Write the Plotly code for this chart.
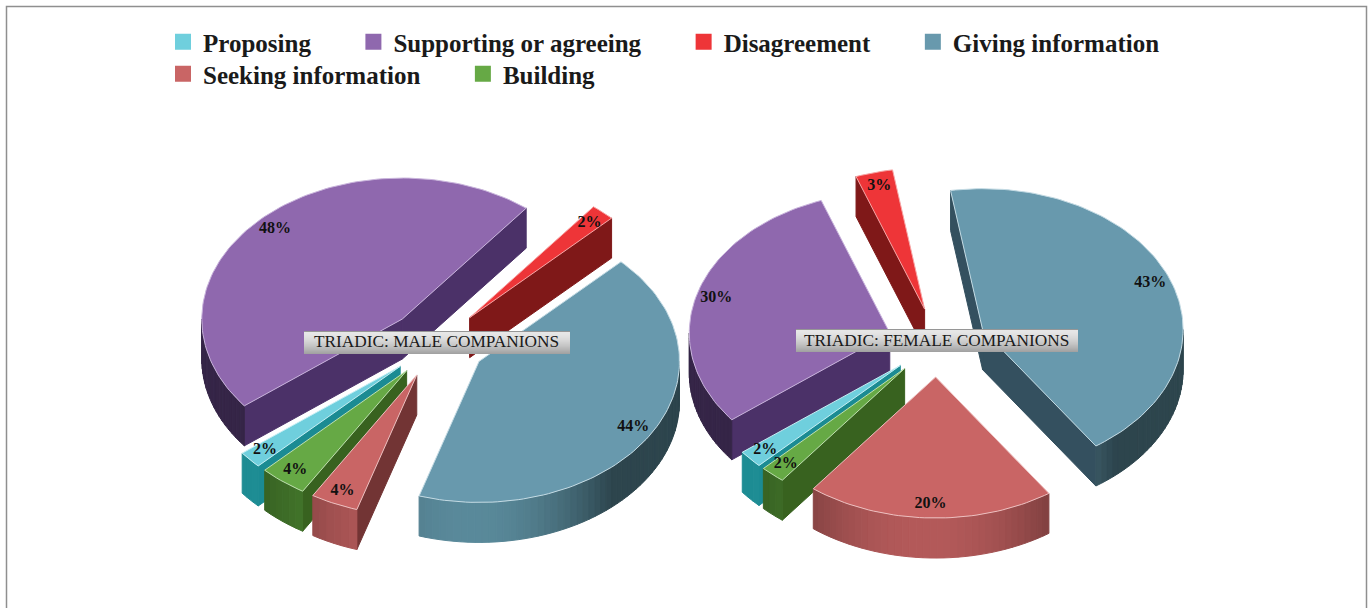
import math
import plotly.graph_objects as go

# ---- data (percentages printed on the chart) ----
categories = ["Proposing", "Supporting or agreeing", "Disagreement",
              "Giving information", "Seeking information", "Building"]
male_values = [2, 48, 2, 44, 4, 4]
female_values = [2, 30, 3, 43, 20, 2]
panel_titles = ["TRIADIC: MALE COMPANIONS", "TRIADIC: FEMALE COMPANIONS"]

top_colors = ["#6fcfdd", "#8f68ae", "#ee3538", "#6899ad", "#c96565", "#66a945"]
edge_colors = ["#1b8b93", "#4b3168", "#7f1818", "#34505f", "#723434", "#38621f"]
wall_colors = ["#23a5ad", "#6b4a8f", "#a81f1f", "#5a8a9b", "#b45a5a", "#4b8430"]
wall_floors = [0.85, 0.5, 0.5, 0.5, 0.62, 0.72]
border_colors = ["#c6eef3", "#c9b4dc", "#f7a5a5", "#c4dbe4", "#eec0c0", "#bfe0ae"]

# ---- pie geometry ----
RX, RY, DEPTH, EXPLODE = 200.5, 141, 40, 0.245
START_ANGLE = 218       # the counter-clockwise end of "Supporting or agreeing"
CLOCKWISE_ORDER = [1, 2, 3, 4, 5, 0]
DRAW_ORDER = [2, 1, 3, 0, 5, 4]
CENTERS = [(437, 343.5), (937, 342.5)]


def shade(hex_color, f):
    r, g, b = (int(hex_color[i:i + 2], 16) for i in (1, 3, 5))
    return f"rgb({int(r * f)},{int(g * f)},{int(b * f)})"


def arc(cx, cy, a, b, dy=0):
    n = max(2, int(abs(b - a) / 1.5) + 1)
    pts = [a + (b - a) * i / (n - 1) for i in range(n)]
    return ([cx + RX * math.cos(math.radians(t)) for t in pts],
            [cy + dy - RY * math.sin(math.radians(t)) for t in pts])


def poly(fig, xs, ys, color, line=None, width=1, name=None):
    fig.add_trace(go.Scatter(
        x=xs + xs[:1], y=ys + ys[:1], mode="lines", fill="toself",
        fillcolor=color, line=dict(color=line or color, width=width),
        hoverinfo="text" if name else "skip", text=name, showlegend=False))


def wall_light(t, floor):
    return floor + (1 - floor) * max(0.0, math.cos(math.radians(2 * (t + 93))))


def draw_pie(fig, center, values):
    total = sum(values)
    spans = {}
    angle = START_ANGLE
    for idx in CLOCKWISE_ORDER:
        sweep = 360 * values[idx] / total
        spans[idx] = (angle - sweep, angle)
        angle -= sweep
    label_x, label_y, label_t = [], [], []
    for idx in DRAW_ORDER:
        lo, hi = spans[idx]
        mid = math.radians((lo + hi) / 2)
        ax = center[0] + EXPLODE * RX * math.cos(mid)
        ay = center[1] - EXPLODE * RY * math.sin(mid)
        # radial walls: only those that face the viewer
        for t, normal in ((hi, hi + 90), (lo, lo - 90)):
            if math.sin(math.radians(normal)) < 0:
                ex = ax + RX * math.cos(math.radians(t))
                ey = ay - RY * math.sin(math.radians(t))
                poly(fig, [ax, ex, ex, ax], [ay, ey, ey + DEPTH, ay + DEPTH],
                     edge_colors[idx])
        # outer wall on the lower half of the ellipse, shaded by strips
        for offset in (0, 360):
            a, b = max(lo, offset - 180), min(hi, offset)
            if a >= b:
                continue
            n = max(1, int((b - a) / 2))
            for i in range(n):
                t0 = a + (b - a) * i / n
                t1 = a + (b - a) * (i + 1) / n
                xs, ys = arc(ax, ay, t0, t1)
                xb, yb = arc(ax, ay, t1, t0, DEPTH)
                poly(fig, xs + xb, ys + yb,
                     shade(wall_colors[idx], wall_light((t0 + t1) / 2, wall_floors[idx])))
        # top face
        xs, ys = arc(ax, ay, hi, lo)
        poly(fig, [ax] + xs, [ay] + ys, top_colors[idx], border_colors[idx], 1,
             f"{categories[idx]}: {values[idx]}%")
        label_x.append(ax + 0.9 * RX * math.cos(mid))
        label_y.append(ay - 0.9 * RY * math.sin(mid))
        label_t.append(f"<b>{values[idx]}%</b>")
    return label_x, label_y, label_t


fig = go.Figure()
all_labels = [draw_pie(fig, c, v) for c, v in zip(CENTERS, (male_values, female_values))]
for lx, ly, lt in all_labels:
    fig.add_trace(go.Scatter(
        x=lx, y=ly, text=lt, mode="text", hoverinfo="skip", showlegend=False,
        textfont=dict(family="Liberation Serif", size=16, color="#111111")))

# legend entries: two rows, each its own legend so that entries follow their text widths
rows = ["legend", "legend", "legend", "legend", "legend2", "legend2"]
GAP = "\u00a0" * 6
for name, color, row in zip(categories, top_colors, rows):
    fig.add_trace(go.Scatter(
        x=[None], y=[None], mode="markers", name=f"<b>{name}</b>{GAP}", legend=row,
        marker=dict(symbol="square", size=16, color=color)))

shapes = [dict(type="rect", x0=6.5, y0=6.5, x1=1366.5, y1=640,
               line=dict(color="#8f8f8f", width=1.5), layer="below")]
annotations = []
for (cx, cy), title, half in zip(CENTERS, panel_titles, (133, 141)):
    top = round(cy) - 13
    for i in range(23):
        level = 150 if i == 0 else int(232 - 70 * (i / 22) ** 1.6)
        g = f"rgb({level},{level},{level})"
        shapes.append(dict(type="rect", x0=cx - half, x1=cx + half,
                           y0=top + i, y1=top + i + 1,
                           fillcolor=g, line=dict(width=0), layer="above"))
    annotations.append(dict(x=cx - 1, y=cy - 2, text=title, showarrow=False,
                            font=dict(family="Liberation Serif", size=17.3, color="#1a1a1a")))

legend_style = dict(orientation="h", xanchor="left", yanchor="top",
                    font=dict(family="Liberation Serif", size=25, color="#1a1a1a"),
                    bgcolor="rgba(0,0,0,0)", itemclick=False, itemdoubleclick=False)
fig.update_layout(
    width=1370, height=608, autosize=False,
    margin=dict(l=0, r=0, t=0, b=0),
    paper_bgcolor="white", plot_bgcolor="white",
    xaxis=dict(range=[0, 1370], visible=False, fixedrange=True),
    yaxis=dict(range=[608, 0], visible=False, fixedrange=True),
    shapes=shapes, annotations=annotations,
    legend=dict(x=163 / 1370, y=1 - 19 / 608, **legend_style),
    legend2=dict(x=163 / 1370, y=1 - 51 / 608, **legend_style),
)

fig.write_html("out.html", config={"displayModeBar": False},
               post_script="document.body.style.margin='0';")
